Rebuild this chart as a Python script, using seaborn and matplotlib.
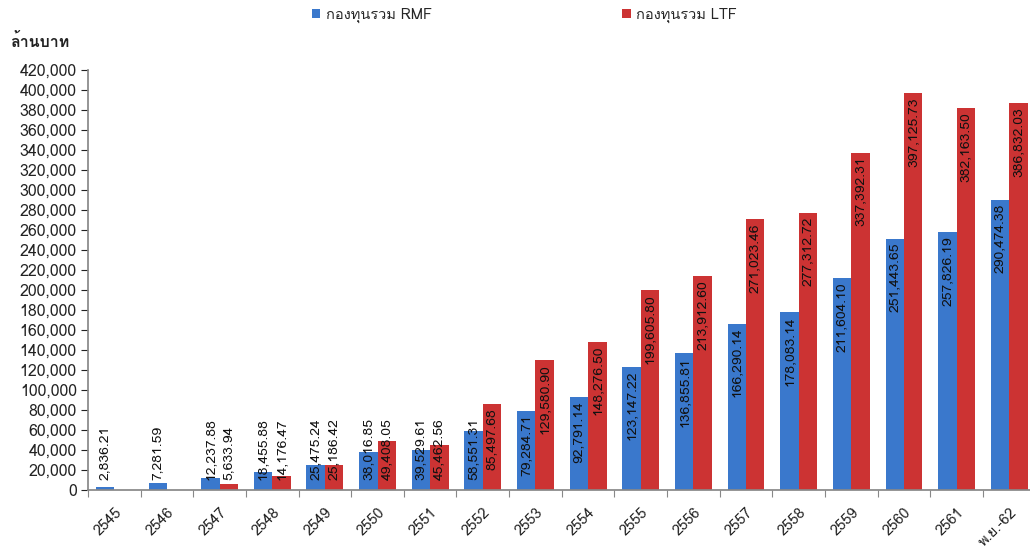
"""RMF vs LTF fund size by year (ล้านบาท)."""

import numpy as np
import pandas as pd
import matplotlib
matplotlib.use('Agg')
import matplotlib.pyplot as plt
from matplotlib import font_manager
from matplotlib.ticker import FuncFormatter, FixedLocator
import seaborn as sns

years = ["2545", "2546", "2547", "2548", "2549", "2550", "2551", "2552", "2553",
         "2554", "2555", "2556", "2557", "2558", "2559", "2560", "2561", "พ.ย.-62"]
rmf = [2836.21, 7281.59, 12237.88, 18455.88, 25475.24, 38016.85, 39529.61, 58551.31,
       79284.71, 92791.14, 123147.22, 136855.81, 166290.14, 178083.14, 211604.10,
       251443.65, 257826.19, 290474.38]
ltf = [np.nan, np.nan, 5633.94, 14176.47, 25186.42, 49408.05, 45462.56, 85497.68,
       129580.90, 148276.50, 199605.80, 213912.60, 271023.46, 277312.72, 337392.31,
       397125.73, 382163.50, 386832.03]
series = ["กองทุนรวม RMF", "กองทุนรวม LTF"]
colors = ["#3A78CC", "#CC3333"]


def thai_font():
    """Find an installed font that has Thai glyphs."""
    try:
        from fontTools.ttLib import TTFont
    except ImportError:
        return None
    seen = set()
    for f in font_manager.fontManager.ttflist:
        if f.name in seen:
            continue
        seen.add(f.name)
        try:
            tt = TTFont(f.fname, fontNumber=0, lazy=True)
            if 0x0E01 in tt.getBestCmap():
                return f.name
        except Exception:
            continue
    return None


sns.set_theme(style="white")
th = thai_font()
plt.rcParams['font.family'] = ([th] if th else []) + ['DejaVu Sans']

df = pd.DataFrame({
    "year": years * 2,
    "value": rmf + ltf,
    "fund": [series[0]] * len(years) + [series[1]] * len(years),
})

fig = plt.figure(figsize=(10.3, 5.58), dpi=100)
ax = fig.add_axes([0.0854, 0.1219, 0.920, 0.7527])

sns.barplot(data=df, x="year", y="value", hue="fund", hue_order=series,
            palette=colors, width=0.7, saturation=1, ax=ax, legend=True,
            errorbar=None, linewidth=0)

ax.set_ylim(0, 420000)
ax.set_xlim(-0.5, len(years) - 0.5)
ax.yaxis.set_major_locator(FixedLocator(np.arange(0, 420001, 20000)))
ax.yaxis.set_major_formatter(FuncFormatter(lambda v, p: f"{v:,.0f}"))
ax.tick_params(axis="y", labelsize=11.5, colors="#222222", length=5, width=0.8,
               left=True, direction="out", pad=3)
ax.set_xlabel("")
ax.set_ylabel("")

# category ticks between groups, labels rotated
ax.set_xticks(np.arange(-0.5, len(years), 1.0), minor=True)
ax.tick_params(axis="x", which="minor", bottom=True, length=5, width=0.8,
               color="#888888", direction="out")
ax.tick_params(axis="x", which="major", bottom=False, labelsize=10.5,
               colors="#222222", pad=5)
for lbl in ax.get_xticklabels():
    lbl.set_rotation(45)
    lbl.set_ha("right")
    lbl.set_va("top")
    lbl.set_rotation_mode("anchor")

for s in ["top", "right"]:
    ax.spines[s].set_visible(False)
ax.spines["left"].set_color("#888888")
ax.spines["bottom"].set_color("#888888")

# value labels inside the top of each bar, kept inside the plot area
texts = []
for cont in ax.containers:
    for bar in cont:
        v = bar.get_height()
        if not np.isfinite(v) or v <= 0:
            continue
        t = ax.annotate(f"{v:,.2f}", xy=(bar.get_x() + bar.get_width() / 2, v),
                        xytext=(0, -3), textcoords="offset points",
                        rotation=90, ha="center", va="top", fontsize=10,
                        color="#111111")
        texts.append(t)

fig.canvas.draw()
base = ax.transData.transform((0, 0))[1]
min_y = base + 10
for t in texts:
    bb = t.get_window_extent()
    if bb.y0 < min_y:
        shift = (min_y - bb.y0) * 72 / fig.dpi
        t.xyann = (0, t.xyann[1] + shift)

ax.legend(loc="center left", bbox_to_anchor=(0.236, 1.131), ncol=2, frameon=False,
          fontsize=10.5, handlelength=0.6, handleheight=0.6, handletextpad=0.4,
          columnspacing=13, borderaxespad=0, borderpad=0)

fig.text(0.01, 0.915, "ล้านบาท", fontsize=11.5, fontweight="bold", color="#222222")

plt.savefig("out.png", dpi=100)
